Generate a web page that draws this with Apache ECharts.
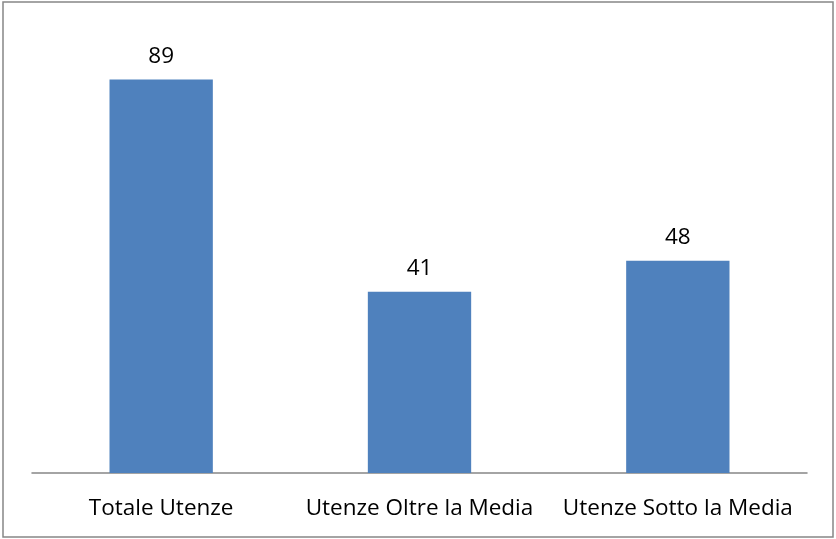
<!DOCTYPE html>
<html>
<head>
<meta charset="utf-8">
<script src="https://cdn.jsdelivr.net/npm/echarts@6/dist/echarts.min.js"></script>
<style>
  html, body { margin: 0; padding: 0; background: #fff; }
  #chart { width: 836px; height: 539px; }
</style>
</head>
<body>
<div id="chart"></div>
<script>
// dati del grafico
var categorie = ['Totale Utenze', 'Utenze Oltre la Media', 'Utenze Sotto la Media'];
var valori = [89, 41, 48];

var chart = echarts.init(document.getElementById('chart'));
var option = {
    animation: false,
    // cornice esterna
    graphic: [{
        type: 'rect',
        shape: { x: 3, y: 2, width: 830, height: 535 },
        style: { fill: 'none', stroke: '#878787', lineWidth: 1.5 },
        silent: true
    }],
    grid: {
        left: 32,
        right: 29,
        top: 31,
        bottom: 66
    },
    xAxis: {
        type: 'category',
        data: categorie,
        axisLine: { lineStyle: { color: '#868686', width: 1.5 } },
        axisTick: { show: false },
        axisLabel: {
            color: '#000',
            fontFamily: 'Open Sans',
            fontSize: 22.5,
            margin: 24,
            interval: 0
        }
    },
    yAxis: {
        type: 'value',
        min: 0,
        max: 100,
        show: false,
        splitLine: { show: false }
    },
    series: [{
        type: 'bar',
        data: valori,
        barWidth: '40%',
        itemStyle: { color: '#4F81BD' },
        label: {
            show: true,
            position: 'top',
            distance: 12,
            color: '#000',
            fontFamily: 'Open Sans',
            fontSize: 22.5
        }
    }]
};
chart.setOption(option);
</script>
</body>
</html>
